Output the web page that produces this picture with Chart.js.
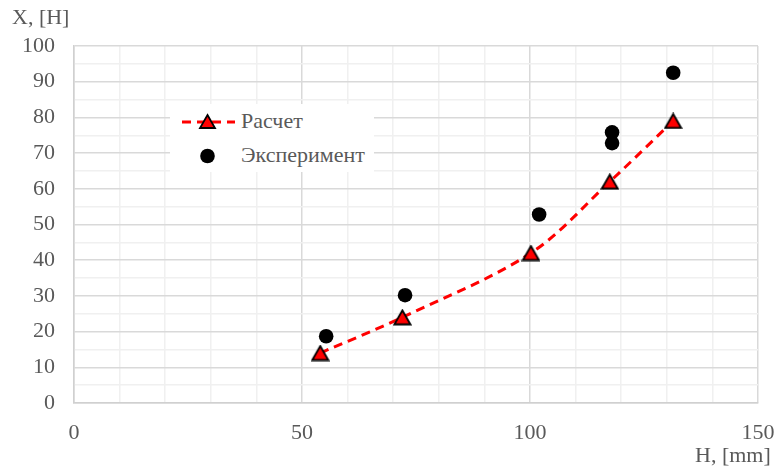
<!DOCTYPE html>
<html>
<head>
<meta charset="utf-8">
<script src="https://cdn.jsdelivr.net/npm/chart.js@4.4.1/dist/chart.umd.min.js"></script>
<style>
  html, body { margin: 0; padding: 0; background: #fff; }
  #wrap { position: relative; width: 784px; height: 470px; }
  canvas { position: absolute; left: 0; top: 0; }
  .lbl { position: absolute; font-family: "Liberation Serif", "DejaVu Serif", "Times New Roman", serif; font-size: 22px; color: #595959; white-space: nowrap; line-height: 1; }
  #legend { position: absolute; left: 170px; top: 104px; width: 204px; height: 68px; background: #fff; }
  .item { position: absolute; left: 0; height: 30px; width: 204px; }
  .item svg { position: absolute; left: 8px; top: 0; }
  .item span { position: absolute; left: 71px; top: 3px; }
</style>
</head>
<body>
<div id="wrap">
  <canvas id="c" width="784" height="470"></canvas>
  <div class="lbl" style="left:12px; top:6px;">X, [H]</div>
  <div class="lbl" style="left:695px; top:444px;">H, [mm]</div>
  <div id="legend">
    <div class="item" style="top:3px;">
      <svg width="60" height="30" viewBox="0 0 60 30">
        <line x1="3" y1="15" x2="57" y2="15" stroke="#ff0000" stroke-width="3" stroke-dasharray="9,6" stroke-dashoffset="-1"></line>
        <polygon points="29.5,8 37,21 22,21" fill="#ff0000" stroke="#000" stroke-width="1.8"></polygon>
      </svg>
      <span class="lbl">Расчет</span>
    </div>
    <div class="item" style="top:37px;">
      <svg width="60" height="30" viewBox="0 0 60 30">
        <circle cx="29.5" cy="15" r="7.3" fill="#000"></circle>
      </svg>
      <span class="lbl">Эксперимент</span>
    </div>
  </div>
</div>
<script>
// Calculated values (Расчет)
const calcH = [54, 72, 100.2, 117.5, 131.4];
const calcX = [14, 24, 42, 62, 79];

// Measured values (Эксперимент)
const expH = [55.3, 72.6, 102, 118, 118, 131.4];
const expX = [18.7, 30.2, 52.8, 75.8, 72.8, 92.5];

// Axis ranges and labelled ticks
const xMin = 0, xMax = 150, xMinorStep = 10, xLabelStep = 50;
const yMin = 0, yMax = 100, yMinorStep = 5, yLabelStep = 10;

const toPoints = (xs, ys) => xs.map((x, i) => ({ x: x, y: ys[i] }));

// Red triangle marker with a black outline, centred on its bounding box
function triangleMarker() {
  const cv = document.createElement('canvas');
  cv.width = 19; cv.height = 17;
  const g = cv.getContext('2d');
  g.beginPath();
  g.moveTo(9.5, 1.5);
  g.lineTo(17.5, 15.5);
  g.lineTo(1.5, 15.5);
  g.closePath();
  g.fillStyle = '#ff0000';
  g.fill();
  g.lineWidth = 1.8;
  g.lineJoin = 'miter';
  g.strokeStyle = '#000';
  g.stroke();
  return cv;
}

const tickFont = { family: '"Liberation Serif", "DejaVu Serif", serif', size: 22 };
const majorGrid = '#d9d9d9';
const minorGrid = '#f0f0f0';

new Chart(document.getElementById('c'), {
  type: 'scatter',
  data: {
    datasets: [
      {
        label: 'Эксперимент',
        data: toPoints(expH, expX),
        showLine: false,
        pointStyle: 'circle',
        pointRadius: 7.3,
        pointBackgroundColor: '#000',
        pointBorderColor: '#000',
        pointBorderWidth: 0,
        order: 2
      },
      {
        label: 'Расчет',
        data: toPoints(calcH, calcX),
        showLine: true,
        borderColor: '#ff0000',
        borderWidth: 3,
        borderDash: [9, 6],
        tension: 0.33,
        fill: false,
        pointStyle: triangleMarker(),
        pointRadius: 8.5,
        order: 1
      }
    ]
  },
  options: {
    responsive: false,
    animation: false,
    events: [],
    layout: { padding: { top: 46, right: 26, left: 0, bottom: 0 } },
    plugins: { legend: { display: false }, tooltip: { enabled: false } },
    scales: {
      x: {
        type: 'linear',
        min: xMin, max: xMax,
        afterFit: s => { s.height = 67; s.paddingLeft = 0; s.paddingRight = 0; },
        ticks: {
          stepSize: xMinorStep,
          autoSkip: false,
          maxRotation: 0,
          padding: 17,
          color: '#595959',
          font: tickFont,
          callback: v => (v % xLabelStep === 0 ? String(v) : '')
        },
        grid: {
          drawTicks: false,
          lineWidth: 1.5,
          color: ctx => (ctx.tick && ctx.tick.value % xLabelStep === 0 ? majorGrid : minorGrid)
        },
        border: { color: '#d0d0d0', width: 1.5 }
      },
      y: {
        type: 'linear',
        min: yMin, max: yMax,
        afterFit: s => { s.width = 74; s.paddingTop = 0; s.paddingBottom = 0; },
        ticks: {
          stepSize: yMinorStep,
          autoSkip: false,
          padding: 19,
          color: '#595959',
          font: tickFont,
          callback: v => (v % yLabelStep === 0 ? String(v) : '')
        },
        grid: {
          drawTicks: false,
          lineWidth: 1.5,
          color: ctx => (ctx.tick && ctx.tick.value % yLabelStep === 0 ? majorGrid : minorGrid)
        },
        border: { color: '#d0d0d0', width: 1.5 }
      }
    }
  }
});
</script>
</body>
</html>
